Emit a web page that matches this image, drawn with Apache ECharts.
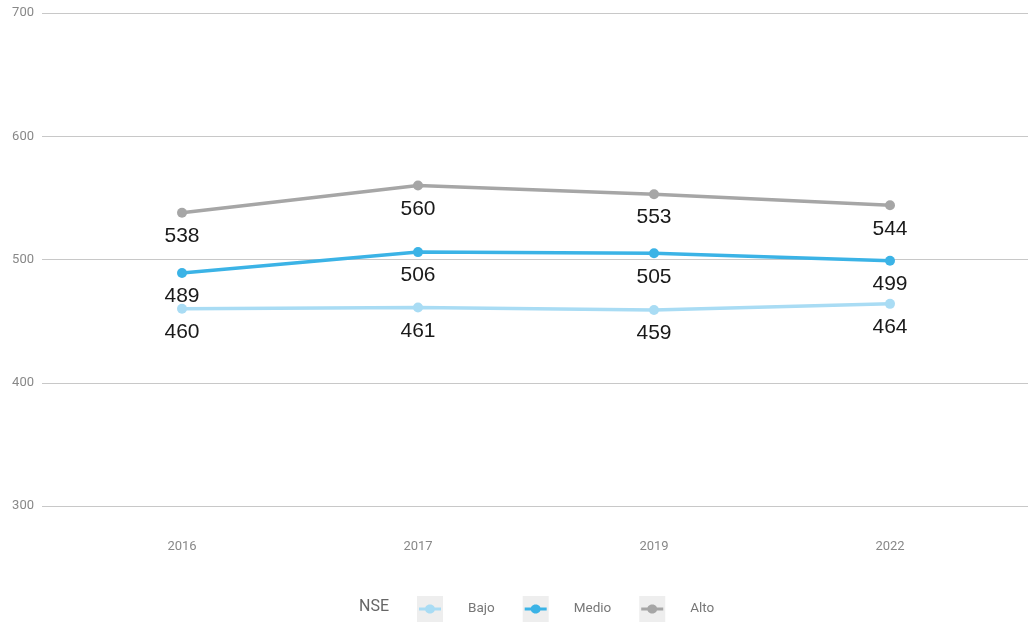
<!DOCTYPE html>
<html>
<head>
<meta charset="utf-8">
<script src="https://cdn.jsdelivr.net/npm/echarts@6/dist/echarts.min.js"></script>
<style>html,body{margin:0;padding:0;background:#fff;}#c{width:1028px;height:622px;}</style>
</head>
<body>
<div id="c"></div>
<script>
const categories = ['2016', '2017', '2019', '2022'];
const bajo = [460, 461, 459, 464];
const medio = [489, 506, 505, 499];
const alto = [538, 560, 553, 544];
const seriesNames = ['Bajo', 'Medio', 'Alto'];
const colors = ['#a9dcf4', '#3bb3e6', '#a6a6a6'];
const yTicks = { min: 300, max: 700, interval: 100 };

const chart = echarts.init(document.getElementById('c'));
const font = 'Roboto, "Liberation Sans", sans-serif';
const lineIcon = 'path://M0,0L0.01,0L0,0.01Z M26,26L25.99,26L26,25.99Z M2,11.5H24V14.5H2Z M13,8.5C16.5,8.5 18,11 18,13C18,15 16.5,17.5 13,17.5C9.5,17.5 8,15 8,13C8,11 9.5,8.5 13,8.5Z';

function mk(name, data, color) {
  return {
    name: name, type: 'line', data: data,
    xAxisIndex: 0, yAxisIndex: 1,
    symbol: 'circle', symbolSize: 10,
    lineStyle: { width: 3.5, color: color },
    itemStyle: { color: color },
    label: { show: true, position: 'bottom', distance: 8, color: '#1a1a1a', fontSize: 21, fontFamily: '"Liberation Sans", Arial, sans-serif' },
    emphasis: { disabled: true },
    z: 3
  };
}

const legendCommon = {
  orient: 'horizontal', left: 412, top: 591,
  itemWidth: 26, itemHeight: 26, itemGap: 28,
  selectedMode: false,
  textStyle: { fontSize: 13.5, fontFamily: font, padding: [0, 0, 0, 20] }
};

chart.setOption({
  animation: false,
  backgroundColor: '#fff',
  title: { text: 'NSE', left: 354, top: 594, textStyle: { fontSize: 16, fontWeight: 'normal', color: '#666', fontFamily: font } },
  grid: [
    { left: 42, right: 0, top: 13, bottom: 116 },
    { left: 64, right: 20, top: 13, bottom: 116 }
  ],
  xAxis: [
    { type: 'category', gridIndex: 1, data: categories, boundaryGap: true,
      axisLine: { show: false }, axisTick: { show: false },
      axisLabel: { color: '#888', fontSize: 13, margin: 34, fontFamily: font } },
    { type: 'value', gridIndex: 0, show: false }
  ],
  yAxis: [
    { type: 'value', gridIndex: 0, min: yTicks.min, max: yTicks.max, interval: yTicks.interval,
      axisLine: { show: false }, axisTick: { show: false },
      axisLabel: { color: '#888', fontSize: 13, margin: 8, fontFamily: font },
      splitLine: { lineStyle: { color: '#c8c8c8', width: 1 } } },
    { type: 'value', gridIndex: 1, min: yTicks.min, max: yTicks.max, interval: yTicks.interval, show: false }
  ],
  legend: [
    Object.assign({}, legendCommon, {
      icon: 'rect', z: 1,
      data: seriesNames.map(n => ({ name: n, itemStyle: { color: '#eeeeee' } })),
      textStyle: Object.assign({}, legendCommon.textStyle, { color: 'rgba(0,0,0,0)' })
    }),
    Object.assign({}, legendCommon, {
      icon: lineIcon, z: 2,
      data: seriesNames,
      textStyle: Object.assign({}, legendCommon.textStyle, { color: '#777' })
    })
  ],
  series: [
    mk(seriesNames[0], bajo, colors[0]),
    mk(seriesNames[1], medio, colors[1]),
    mk(seriesNames[2], alto, colors[2])
  ]
});
</script>
</body>
</html>
